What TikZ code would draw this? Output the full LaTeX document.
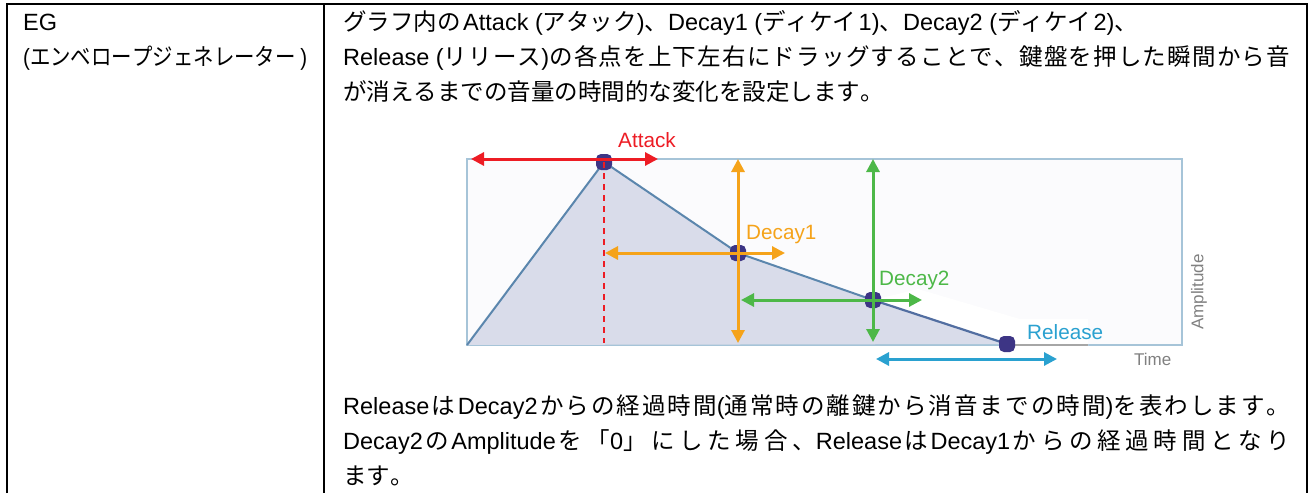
\documentclass[tikz,border=0pt]{standalone}
\usepackage{fontspec}
\usepackage{graphicx}
\setmainfont{Liberation Sans}
\newfontfamily\jpf{Noto Sans CJK JP}
\newfontfamily\latf{Liberation Sans}
\usetikzlibrary{arrows.meta}
% --- Japanese/Latin font switching and justification glue ---
\newXeTeXintercharclass\jpC
\newXeTeXintercharclass\jpP
\newXeTeXintercharclass\parC
\makeatletter
\count@="3040
\loop\ifnum\count@<"A000 \XeTeXcharclass\count@=\jpC \advance\count@\@ne\repeat
\count@="3000
\loop\ifnum\count@<"3040 \XeTeXcharclass\count@=\jpP \advance\count@\@ne\repeat
\count@="FF00
\loop\ifnum\count@<"FFF0 \XeTeXcharclass\count@=\jpP \advance\count@\@ne\repeat
\XeTeXcharclass`\(=\parC
\XeTeXcharclass`\)=\parC
\XeTeXinterchartoks 4095 \jpC = {\jpf}
\XeTeXinterchartoks 4095 \jpP = {\jpf}
\XeTeXinterchartoks 4095 0 = {\latf}
\XeTeXinterchartoks 4095 \parC = {\latf}
\XeTeXinterchartoks 0 \jpC = {\hskip 2.5pt\jpf}
\XeTeXinterchartoks \jpC 0 = {\hskip 2.5pt\latf}
\XeTeXinterchartoks 0 \jpP = {\jpf}
\XeTeXinterchartoks \jpP 0 = {\latf}
\XeTeXinterchartoks \parC \jpC = {\jpf}
\XeTeXinterchartoks \jpC \parC = {\latf}
\XeTeXinterchartoks \parC \jpP = {\jpf}
\XeTeXinterchartoks \jpP \parC = {\latf}
\XeTeXinterchartoks \jpC \jpC = {\hskip 0pt plus 1fil}
\XeTeXinterchartoks \jpC \jpP = {\hskip 0pt plus 1fil}
\XeTeXinterchartoks \jpP \jpC = {\hskip 0pt plus 1fil}
\XeTeXinterchartoks \jpP \jpP = {\hskip 0pt plus 1fil}
\XeTeXinterchartokenstate=1
\newsavebox\fitbox
\newcommand\fitline[2]{\sbox\fitbox{#2}%
  \ifdim\wd\fitbox>#1\relax
    \scalebox{\fpeval{\strip@pt\dimexpr#1\relax/\strip@pt\wd\fitbox}}[1]{\usebox\fitbox}%
  \else
    \hbox to #1{\unhbox\fitbox}%
  \fi}
\makeatother
\definecolor{egred}{HTML}{ED1C24}
\definecolor{egorange}{HTML}{F5A31A}
\definecolor{eggreen}{HTML}{4DB848}
\definecolor{egblue}{HTML}{2AA1D0}
\definecolor{eggray}{HTML}{808080}
\definecolor{rectedge}{HTML}{A6C4D8}
\definecolor{rectfill}{HTML}{FBFBFD}
\definecolor{envfill}{HTML}{D9DCEA}
\definecolor{envline}{HTML}{5B86AD}
\definecolor{dotcol}{HTML}{3D3585}
\tikzset{
  rule/.style={line width=2.2pt, black},
  bodytext/.style={anchor=base west, inner sep=0pt, font=\fontsize{23.5}{28}\selectfont},
  lbl/.style={anchor=base west, inner sep=0pt, font=\fontsize{20.7}{24}\selectfont},
  axislbl/.style={inner sep=0pt, text=eggray, font=\fontsize{17}{20}\selectfont},
  dbl/.style={line width=3pt, {Triangle[length=13pt,width=13pt]}-{Triangle[length=13pt,width=13pt]}},
  dot/.style={rectangle, rounded corners=5pt, minimum size=16pt, inner sep=0pt, fill=dotcol}
}
\begin{document}
\begin{tikzpicture}[x=1pt,y=-1pt]
\useasboundingbox (0,0) rectangle (1315,493);
% table rules
\coordinate (TL) at (7,4);
\coordinate (TR) at (1307,4);
\coordinate (BL) at (7,493);
\coordinate (BR) at (1307,493);
\coordinate (DT) at (324,4);
\coordinate (DB) at (324,493);
\draw[rule] (BL) -- (TL) -- (TR) -- (BR);
\draw[rule] (DT) -- (DB);
% left cell
\node[bodytext] (eg1) at (23,30) {EG};
\node[bodytext] (eg2) at (23,65) {\fitline{284pt}{(エンベロープジェネレーター )}};
% right cell text
\node[bodytext] (t1) at (343,30) {グラフ内のAttack (アタック)、Decay1 (ディケイ1)、Decay2 (ディケイ2)、};
\node[bodytext] (t2) at (343,65) {\fitline{947pt}{Release (リリース)の各点を上下左右にドラッグすることで、鍵盤を押した瞬間から音}};
\node[bodytext] (t3) at (343,100) {が消えるまでの音量の時間的な変化を設定します。};
\node[bodytext] (b1) at (343,414) {\fitline{947pt}{ReleaseはDecay2からの経過時間(通常時の離鍵から消音までの時間)を表わします。}};
\node[bodytext] (b2) at (343,449) {\fitline{947pt}{Decay2のAmplitudeを「0」にした場合、ReleaseはDecay1からの経過時間となり}};
\node[bodytext] (b3) at (343,484) {ます。};
% graph
\coordinate (G0) at (467,345);
\coordinate (GA) at (604,162);
\coordinate (GD1) at (738,253);
\coordinate (GD2) at (873,300);
\coordinate (GR) at (1007,344);
\fill[rectfill] (467,159) rectangle (1182,345);
\draw[rectedge, line width=1.5pt] (467,159) rectangle (1182,345);
\fill[white] (GD2) -- (918,289) -- (1020,319) -- (1088,319) -- (1088,348) -- (1007,348) -- (GR) -- cycle;
\draw[eggray!70, line width=1.5pt] (1007,345) -- (1088,345);
\fill[envfill] (G0) -- (GA) -- (GD1) -- (GD2) -- (GR) -- cycle;
\draw[envline, line width=2pt, line join=round] (G0) -- (GA) -- (GD1) -- (GD2);
\draw[envline!70!dotcol, line width=2.2pt] (GD2) -- (GR);
\node[dot] (dA) at (GA) {};
\node[dot] (dD1) at (GD1) {};
\node[dot] (dD2) at (GD2) {};
\node[dot] (dR) at (GR) {};
% attack
\coordinate (dashEnd) at (604,343);
\draw[egred, line width=1.8pt, dash pattern=on 6pt off 5pt] (dA.center) -- (dashEnd);
\coordinate (atL) at (471,159);
\coordinate (atR) at (658,159);
\draw[dbl, egred] (atL) -- (atR);
\node[lbl, text=egred] (latk) at (618,147.7) {Attack};
% decay1
\coordinate (d1T) at (738,159);
\coordinate (d1B) at (738,343);
\coordinate (d1L) at (605,253);
\coordinate (d1R) at (785,253);
\draw[dbl, egorange] (d1T) -- (d1B);
\draw[dbl, egorange] (d1L) -- (d1R);
\node[lbl, text=egorange] (ld1) at (746,239) {Decay1};
% decay2
\coordinate (d2T) at (873,159);
\coordinate (d2B) at (873,342);
\coordinate (d2L) at (741,300);
\coordinate (d2R) at (922,300);
\draw[dbl, eggreen] (d2T) -- (d2B);
\draw[dbl, eggreen] (d2L) -- (d2R);
\node[lbl, text=eggreen] (ld2) at (879,285.7) {Decay2};
% release
\coordinate (rL) at (876,359);
\coordinate (rR) at (1057,359);
\draw[dbl, egblue] (rL) -- (rR);
\node[lbl, text=egblue] (lrel) at (1027,339) {Release};
% axes labels
\node[axislbl, anchor=base west] (ltime) at (1134,365) {Time};
\node[axislbl, rotate=90] (lamp) at (1199,292) {Amplitude};
\end{tikzpicture}
\end{document}
